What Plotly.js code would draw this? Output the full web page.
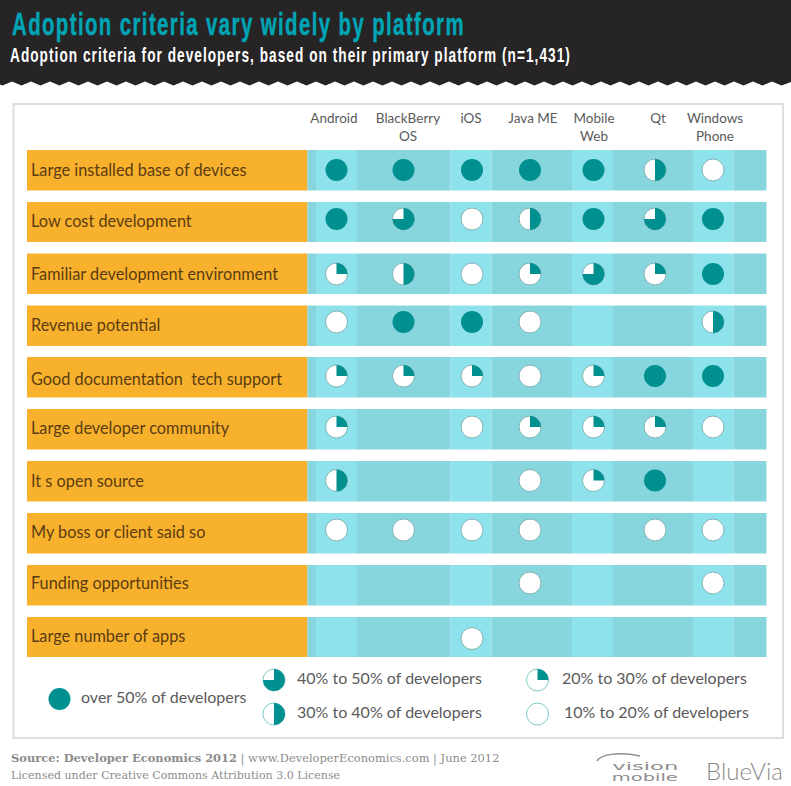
<!DOCTYPE html>
<html>
<head>
<meta charset="utf-8">
<script src="https://cdn.plot.ly/plotly-3.0.1.min.js"></script>
<style>
html,body{margin:0;padding:0;background:#fff;}
#chart{width:791px;height:786px;}
.gtitle{letter-spacing:2.2px;stroke:#00a5b5;stroke-width:.5px;}
.gtitle-subtitle{letter-spacing:1.6px;}
</style>
</head>
<body>
<div id="chart"></div>
<script>
// ---- chart data ----
const titleText = "Adoption criteria vary widely by platform";
const subtitleText = "Adoption criteria for developers, based on their primary platform (n=1,431)";
const platforms = ["Android<br>&nbsp;","BlackBerry<br>OS","iOS<br>&nbsp;","Java ME<br>&nbsp;","Mobile<br>Web","Qt<br>&nbsp;","Windows<br>Phone"];
const criteria = [
  "Large installed base of devices",
  "Low cost development",
  "Familiar development environment",
  "Revenue potential",
  "Good documentation &nbsp;tech support",
  "Large developer community",
  "It s open source",
  "My boss or client said so",
  "Funding opportunities",
  "Large number of apps"
];
// level per row (criteria) and column (platforms):
// 0 none, 1 = 10-20%, 2 = 20-30%, 3 = 30-40%, 4 = 40-50%, 5 = over 50%
const largeInstalledBase = [5,5,5,5,5,3,1];
const lowCost            = [5,4,1,3,5,4,5];
const familiarEnv        = [2,3,1,2,4,2,5];
const revenuePotential   = [1,5,5,1,0,0,3];
const goodDocs           = [2,2,2,1,2,5,5];
const developerCommunity = [2,0,1,2,2,2,1];
const openSource         = [3,0,0,1,2,5,0];
const bossOrClient       = [1,1,1,1,0,1,1];
const fundingOpps        = [0,0,0,1,0,0,1];
const numberOfApps       = [0,0,1,0,0,0,0];
const levels = [largeInstalledBase,lowCost,familiarEnv,revenuePotential,goodDocs,developerCommunity,openSource,bossOrClient,fundingOpps,numberOfApps];
const legendLabels = ["10% to 20% of developers","20% to 30% of developers","30% to 40% of developers","40% to 50% of developers","over 50% of developers"];
const legendLevels = [1,2,3,4,5];

// ---- layout geometry (kept apart from the data) ----
const PAL = {teal:"#009090",ring:"#7fb3b5",legendRing:"#80c8c8",light:"#8de2eb",dark:"#88d6dd",orange:"#f7b12d",ink:"#5c3c12",grey:"#5a5a5a",head:"#262425",frame:"#dedede",foot:"#8c8c8c"};
const plotX = [27,767], plotY = [738,150];
const colCenters = [336.5,403.5,472,530,593.5,655,713];
const headerCenters = [334,408,471,533,594,658,715];
const rowCenters = [170,219,274,322,376,427,480.5,530,583,638.5];
const labelCenters = [170.6,221,274,325,379,428.6,481,532,583,636];
const rowBands = [[150,190.5],[202,242],[253.5,294],[305.5,346],[357,397.5],[409,449.5],[461,501.5],[513,553.5],[565,605.5],[617,657]];
const colBands = [[307.5,316,"dark"],[316,357,"light"],[357,450.5,"dark"],[450.5,491.5,"light"],[491.5,572,"dark"],[572,613,"light"],[613,693,"dark"],[693,733.5,"light"],[733.5,766.5,"dark"]];
const legendSpots = [[537.5,714],[537.5,680],[274,714],[274,680],[59.5,699]];
const legendTextSpots = [[564,713.5],[562,679.5],[297,713.5],[297,679.5],[81,698.5]];
const R = 11;

const px = v => (v-plotX[0])/(plotX[1]-plotX[0]);
const py = v => (plotY[0]-v)/(plotY[0]-plotY[1]);

// wedge outline for a glyph: teal sweep clockwise from 12 o'clock
const sweep = {2:0.25,3:0.5,4:0.75};
function wedge(cx,cy,lvl,xs,ys){
  const f = sweep[lvl]; if(!f) return;
  const n = Math.round(48*f);
  xs.push(cx); ys.push(cy);
  for(let i=0;i<=n;i++){
    const a = 2*Math.PI*f*i/n;
    xs.push(cx+R*Math.sin(a)); ys.push(cy-R*Math.cos(a));
  }
  xs.push(cx,null); ys.push(cy,null);
}

const baseX=[],baseY=[],baseTxt=[],fullX=[],fullY=[],fullTxt=[],wedgeX=[],wedgeY=[];
levels.forEach((row,r)=>row.forEach((lvl,c)=>{
  if(!lvl) return;
  const cx=colCenters[c], cy=rowCenters[r];
  const t = criteria[r]+" / "+platforms[c].replace(/<br>(&nbsp;)?/," ")+": "+legendLabels[lvl-1];
  if(lvl===5){fullX.push(cx);fullY.push(cy);fullTxt.push(t);}
  else{baseX.push(cx);baseY.push(cy);baseTxt.push(t);wedge(cx,cy,lvl,wedgeX,wedgeY);}
}));

const legBaseX=[],legBaseY=[],legFullX=[],legFullY=[];
legendLevels.forEach((lvl,i)=>{
  const [cx,cy]=legendSpots[i];
  if(lvl===5){legFullX.push(cx);legFullY.push(cy);}
  else{legBaseX.push(cx);legBaseY.push(cy);wedge(cx,cy,lvl,wedgeX,wedgeY);}
});

const traces = [
  {type:"scatter",mode:"markers",x:legBaseX,y:legBaseY,hoverinfo:"skip",showlegend:false,
   marker:{symbol:"circle",size:2*R,color:"#ffffff",line:{color:PAL.legendRing,width:1}}},
  {type:"scatter",mode:"markers",x:baseX,y:baseY,text:baseTxt,hoverinfo:"text",showlegend:false,
   marker:{symbol:"circle",size:2*R,color:"#ffffff",line:{color:PAL.ring,width:1}}},
  {type:"scatter",mode:"lines",x:wedgeX,y:wedgeY,fill:"toself",fillcolor:PAL.teal,hoverinfo:"skip",showlegend:false,
   line:{width:0,color:PAL.teal}},
  {type:"scatter",mode:"markers",x:fullX.concat(legFullX),y:fullY.concat(legFullY),text:fullTxt,hoverinfo:"text",showlegend:false,
   marker:{symbol:"circle",size:2*R,color:PAL.teal,line:{width:0}}},
  {type:"scatter",mode:"text",x:legendTextSpots.map(p=>p[0]),y:legendTextSpots.map(p=>p[1]),text:legendLabels,
   textposition:"middle right",hoverinfo:"skip",showlegend:false,cliponaxis:false,
   textfont:{family:"Lato, sans-serif",size:16,color:PAL.grey}}
];

const shapes = [];
// dark header with a pinked lower edge
let hd = "M"+px(0)+","+py(0)+" L"+px(791)+","+py(0)+" L"+px(791)+","+py(82);
for(let x=791; x>0; ){
  const mid=x-9.5, nx=x-19;
  hd += " L"+px(mid)+","+py(85.5)+" L"+px(nx)+","+py(81.5);
  x=nx;
}
hd += " Z";
shapes.push({type:"path",xref:"paper",yref:"paper",path:hd,fillcolor:PAL.head,line:{width:0},layer:"below"});
// panel frame
shapes.push({type:"rect",xref:"paper",yref:"paper",x0:px(13.5),x1:px(783),y0:py(104),y1:py(738),fillcolor:"rgba(0,0,0,0)",line:{color:PAL.frame,width:2},layer:"below"});
// row bands
rowBands.forEach(b=>{
  shapes.push({type:"rect",xref:"x",yref:"y",x0:27,x1:307.5,y0:b[0],y1:b[1],fillcolor:PAL.orange,line:{width:0},layer:"below"});
  colBands.forEach(c=>shapes.push({type:"rect",xref:"x",yref:"y",x0:c[0],x1:c[1],y0:b[0],y1:b[1],fillcolor:PAL[c[2]],line:{width:0},layer:"below"}));
});
// logo swoosh
shapes.push({type:"path",xref:"paper",yref:"paper",
  path:"M"+px(597)+","+py(761)+" C"+px(600)+","+py(755)+" "+px(618)+","+py(751)+" "+px(640)+","+py(756),
  line:{color:"#8f8f8f",width:1.4},layer:"below"});

const annotations = [
  {xref:"paper",yref:"paper",x:px(9),y:py(758),xanchor:"left",yanchor:"middle",showarrow:false,align:"left",
   text:"<b>Source: Developer Economics 2012</b> | www.DeveloperEconomics.com | June 2012",font:{family:"DejaVu Serif, serif",size:11.45,color:PAL.foot}},
  {xref:"paper",yref:"paper",x:px(9),y:py(775),xanchor:"left",yanchor:"middle",showarrow:false,align:"left",
   text:"Licensed under Creative Commons Attribution 3.0 License",font:{family:"DejaVu Serif, serif",size:11.05,color:PAL.foot}},
  {xref:"paper",yref:"paper",x:px(645),y:py(765.5),xanchor:"center",yanchor:"middle",showarrow:false,
   text:"vision",font:{family:"DejaVu Sans, sans-serif",size:10.5,color:"#8f8f8f"}},
  {xref:"paper",yref:"paper",x:px(645),y:py(776.5),xanchor:"center",yanchor:"middle",showarrow:false,
   text:"mobile",font:{family:"DejaVu Sans, sans-serif",size:10.5,color:"#8f8f8f"}},
  {xref:"paper",yref:"paper",x:px(744),y:py(770),xanchor:"center",yanchor:"middle",showarrow:false,
   text:"BlueVia",font:{family:"Lato, sans-serif",size:24,weight:300,color:"#8a8a8a"}}
];

const layout = {
  width:791,height:786,
  margin:{l:plotX[0],r:791-plotX[1],t:plotY[1],b:786-plotY[0],pad:0},
  paper_bgcolor:"#ffffff",plot_bgcolor:"rgba(0,0,0,0)",
  showlegend:false,
  title:{
    text:titleText,xref:"container",x:12/791,xanchor:"left",yref:"container",y:1-8/786,yanchor:"top",
    font:{family:"Liberation Sans, sans-serif",size:32,weight:700,color:"#00a5b5"},
    subtitle:{text:subtitleText,font:{family:"Liberation Sans, sans-serif",size:21,weight:700,color:"#ffffff"}}
  },
  xaxis:{range:plotX,side:"top",tickmode:"array",tickvals:headerCenters,ticktext:platforms,tickangle:0,
    showgrid:false,zeroline:false,showline:false,ticks:"outside",ticklen:3,tickcolor:"rgba(0,0,0,0)",
    tickfont:{family:"Lato, sans-serif",size:13.5,color:PAL.grey},fixedrange:true,automargin:false},
  yaxis:{range:plotY,tickmode:"array",tickvals:labelCenters,ticktext:criteria,ticklabelposition:"inside",ticklabelstandoff:1,
    showgrid:false,zeroline:false,showline:false,ticks:"",
    tickfont:{family:"Lato, sans-serif",size:16.3,color:PAL.ink},fixedrange:true,automargin:false},
  shapes:shapes,annotations:annotations
};

// the reference's condensed display face is not installed: squeeze the installed face to its widths
function fitText(){
  const fit = (el,x,y,len)=>{
    if(!el) return;
    el.removeAttribute("dy");
    el.setAttribute("text-anchor","start");
    el.setAttribute("x",0); el.setAttribute("y",y);
    const k = len/el.getComputedTextLength();
    el.setAttribute("transform","translate("+x+",0) scale("+k+",1)");
  };
  fit(document.querySelector(".gtitle"),12,35,453);
  fit(document.querySelector(".gtitle-subtitle"),10,62,561);
  [2,3].forEach(i=>{
    const el = document.querySelector('.annotation[data-index="'+i+'"] text');
    if(el){el.setAttribute("textLength",66);el.setAttribute("lengthAdjust","spacingAndGlyphs");}
  });
}
Plotly.newPlot("chart",traces,layout,{displayModeBar:false,responsive:false}).then(gd=>{
  fitText();
  gd.on("plotly_afterplot",fitText);
  setTimeout(fitText,50);
});
</script>
</body>
</html>
